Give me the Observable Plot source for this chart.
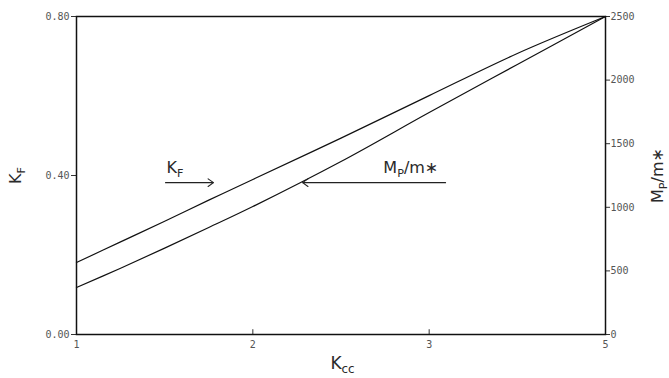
<!DOCTYPE html>
<html><head><meta charset="utf-8">
<script src="https://cdn.jsdelivr.net/npm/d3@7"></script>
<script src="https://cdn.jsdelivr.net/npm/@observablehq/plot@0.6"></script>
<style>
html,body{margin:0;padding:0;background:#fff;}
</style></head><body><div id="chart"></div>
<script>
// ---- data ----
const kcc = [1, 1.25, 1.5, 1.75, 2, 2.5, 3, 3.5, 4];
const kF  = [0.181, 0.233, 0.285, 0.338, 0.390, 0.494, 0.601, 0.707, 0.800];
const mpm = [369, 521, 679, 841, 1006, 1360, 1745, 2123, 2500];

const xTicks = [1, 2, 3, 4];
const xTickLabels = ["1", "2", "3", "5"];
const kFTicks = [0, 0.4, 0.8];
const mpTicks = [0, 500, 1000, 1500, 2000, 2500];

const KF_MAX = 0.8, MP_MAX = 2500;

// annotations (data units)
const arrowData = [
  {x1: 1.505, x2: 1.777, y: 0.382},
  {x1: 3.093, x2: 2.282, y: 0.382}
];
const annotLabels = [
  {x: 1.51, y: 0.407, text: "K_F"},
  {x: 2.74, y: 0.407, text: "M_P/m∗"}
];
const xTitle = "K_cc", yTitle = "K_F", y2Title = "M_P/m∗";

// ---- build ----
const toY = v => v / MP_MAX * KF_MAX;
const rows = kcc.map((x, i) => ({x, kF: kF[i], mp: toY(mpm[i])}));

const labelFont = {fontFamily: "DejaVu Sans", fill: "#2a2a2a"};

const chart = Plot.plot({
  width: 669, height: 378,
  marginLeft: 76, marginRight: 64, marginTop: 16, marginBottom: 44,
  style: {background: "#fff", overflow: "visible"},
  x: {domain: [1, 4]},
  y: {domain: [0, KF_MAX]},
  marks: [
    Plot.axisY(kFTicks, {anchor: "left", tickSize: 5, tickPadding: 2, label: null,
      tickFormat: d => d.toFixed(2), fontFamily: "DejaVu Sans Mono", fontSize: 10,
      fill: "#555", stroke: "#333", letterSpacing: "1.5px"}),
    Plot.axisY(mpTicks.map(toY), {anchor: "right", tickSize: 4, tickPadding: 1, label: null,
      tickFormat: d => String(Math.round(d / KF_MAX * MP_MAX)), fontFamily: "DejaVu Sans Mono",
      fontSize: 10, fill: "#555", stroke: "#333", letterSpacing: "1.5px"}),
    Plot.axisX(xTicks, {anchor: "bottom", tickSize: 0, tickPadding: 6, label: null,
      tickFormat: d => xTickLabels[xTicks.indexOf(d)], fontFamily: "DejaVu Sans Mono",
      fontSize: 10, fill: "#555"}),
    Plot.ruleX(xTicks.slice(1, -1), {y1: 0, y2: 0.012, stroke: "#333"}),
    Plot.frame({stroke: "#111", strokeWidth: 1.5}),
    Plot.line(rows, {x: "x", y: "kF", curve: "catmull-rom", stroke: "#111", strokeWidth: 1.2}),
    Plot.line(rows, {x: "x", y: "mp", curve: "catmull-rom", stroke: "#111", strokeWidth: 1.2}),
    Plot.arrow(arrowData, {x1: "x1", x2: "x2", y1: "y", y2: "y", bend: 0,
      headLength: 9, headAngle: 70, stroke: "#222", strokeWidth: 1.1}),
    Plot.text(annotLabels, {x: "x", y: "y", text: "text", textAnchor: "start",
      lineAnchor: "bottom", fontSize: 16, letterSpacing: "2px", ...labelFont}),
    Plot.text([xTitle], {frameAnchor: "bottom", x: [2.44], text: d => d, dy: 34,
      textAnchor: "start", lineAnchor: "bottom", fontSize: 17, letterSpacing: "1px", ...labelFont}),
    Plot.text([yTitle], {frameAnchor: "left", text: d => d, dx: -56, rotate: -90,
      textAnchor: "middle", lineAnchor: "bottom", fontSize: 16, letterSpacing: "1px", ...labelFont}),
    Plot.text([y2Title], {frameAnchor: "right", text: d => d, dx: 57, rotate: -90,
      textAnchor: "middle", lineAnchor: "bottom", fontSize: 16, letterSpacing: "1px", ...labelFont})
  ]
});

// turn "A_B rest" into real subscript tspans
d3.select(chart).selectAll("text").each(function() {
  const t = this.textContent;
  const m = t.match(/^([^_]*)_([A-Za-z]+)(.*)$/);
  if (!m) return;
  const sel = d3.select(this);
  sel.text(null);
  sel.append("tspan").text(m[1]);
  sel.append("tspan").attr("dy", 4).attr("font-size", "0.7em").text(m[2]);
  if (m[3]) sel.append("tspan").attr("dy", -4).text(m[3]);
});

document.getElementById("chart").appendChild(chart);
</script>
</body></html>
